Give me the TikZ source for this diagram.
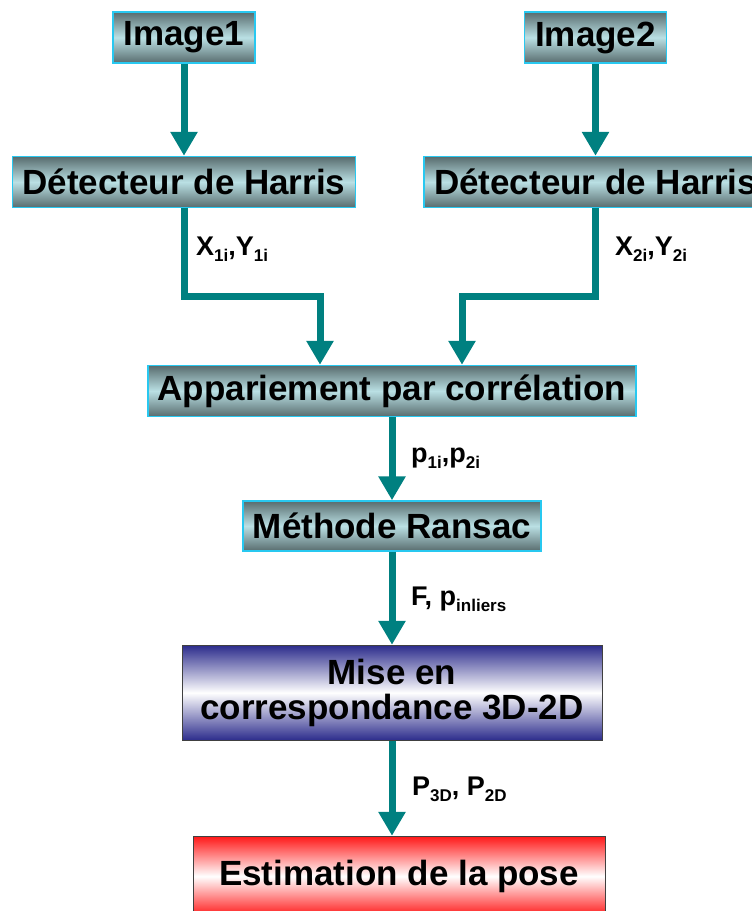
\documentclass[tikz,border=0pt]{standalone}
\usepackage{fontspec}
\setmainfont{Liberation Sans}
\usetikzlibrary{positioning,arrows.meta}

\definecolor{sarcelle}{RGB}{0,128,128}
\definecolor{grisvert}{RGB}{88,108,110}
\definecolor{bleuclair}{RGB}{186,224,228}
\definecolor{cyanbord}{RGB}{40,200,240}
\definecolor{marine}{RGB}{44,44,140}
\definecolor{rouge}{RGB}{255,24,24}
\definecolor{grisbord}{RGB}{64,64,64}

\newcommand{\sousind}[1]{\raisebox{-6pt}{\fontsize{17}{17}\selectfont #1}}

\begin{document}
\begin{tikzpicture}[
    x=1pt, y=1pt,
    node distance={92pt},
    boite/.style = {draw=cyanbord, line width=1.5pt, top color=grisvert, bottom color=grisvert, middle color=bleuclair,
                    minimum height=51pt, inner sep=0pt, font=\fontsize{35}{40}\selectfont\bfseries},
    fleche/.style = {sarcelle, line width=7pt, line join=miter, -{Triangle[width=26pt,length=24pt]}},
    etiq/.style = {anchor=base west, inner sep=0pt, font=\fontsize{27}{30}\selectfont\bfseries}
]
    \useasboundingbox (0,0) rectangle (752,-911);

    % Les boîtes (Nodes)
    \node[boite, minimum width=142pt] (img1) at (184,-37.5) {Image1};
    \node[boite, minimum width=142pt] (img2) [right=268pt of img1] {Image2};
    \node[boite, minimum width=343pt] (harris1) [below=of img1] {Détecteur de Harris};
    \node[boite, minimum width=343pt] (harris2) [below=of img2] {Détecteur de Harris};
    \node[boite, minimum width=488pt] (app) at (392,-391) {Appariement par corrélation};
    \node[boite, minimum width=298pt, minimum height=50pt] (ransac) [below=83pt of app] {Méthode Ransac};
    \node[boite, draw=grisbord, line width=1pt, top color=marine, bottom color=marine, middle color=white,
          minimum width=420pt, minimum height=95pt, align=center,
          font=\fontsize{35}{35}\selectfont\bfseries] (mise) [below=93pt of ransac] {Mise en\\correspondance 3D-2D};
    \node[boite, draw=grisbord, line width=1pt, top color=rouge, bottom color=rouge, middle color=white,
          minimum width=412pt, minimum height=80pt] (pose) [below=95pt of mise, xshift=7pt] {Estimation de la pose};

    % Les flèches (Edges)
    \draw[fleche] (img1) -- (harris1);
    \draw[fleche] (img2) -- (harris2);
    \draw[fleche] (harris1.south) -- ++(0,-88) -| ([xshift=-72pt]app.north);
    \draw[fleche] (harris2.south) -- ++(0,-88) -| ([xshift=70pt]app.north);
    \draw[fleche] (app) -- (ransac);
    \draw[fleche] (ransac) -- (mise);
    \draw[fleche] (mise) -- (mise |- pose.north);

    % Les étiquettes
    \node[etiq] (lab1) at (196,-255) {X\sousind{1i},Y\sousind{1i}};
    \node[etiq] (lab2) at (615,-255) {X\sousind{2i},Y\sousind{2i}};
    \node[etiq] (lab3) at (411,-462) {p\sousind{1i},p\sousind{2i}};
    \node[etiq] (lab4) at (411,-605) {F, p\sousind{inliers}};
    \node[etiq] (lab5) at (412,-795) {P\sousind{3D}, P\sousind{2D}};

\end{tikzpicture}
\end{document}
